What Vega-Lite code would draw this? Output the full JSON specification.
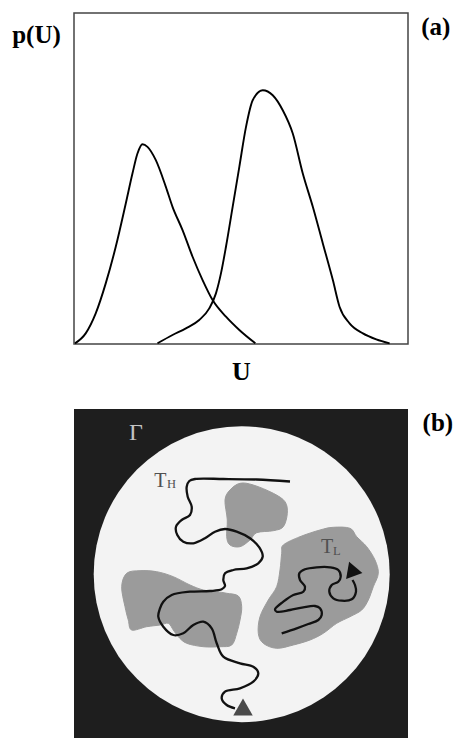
{
  "$schema": "https://vega.github.io/schema/vega-lite/v6.json",
  "background": "white",
  "padding": {"left": 10, "top": 12, "right": 0, "bottom": 0},
  "bounds": "flush",
  "spacing": 65,
  "config": {"font": "Liberation Serif", "axis": {"grid": false}},
  "datasets": {
    "curves": [
      {"curve": "low", "U": 0.3, "p": 0.2}, {"curve": "low", "U": 3.5, "p": 3.2}, {"curve": "low", "U": 6.5, "p": 9.2},
      {"curve": "low", "U": 9.5, "p": 18.2}, {"curve": "low", "U": 12.5, "p": 29.2}, {"curve": "low", "U": 15.5, "p": 42.2},
      {"curve": "low", "U": 17.5, "p": 51.2}, {"curve": "low", "U": 19, "p": 57.2}, {"curve": "low", "U": 20.5, "p": 60},
      {"curve": "low", "U": 22, "p": 59.2}, {"curve": "low", "U": 24.5, "p": 55.2}, {"curve": "low", "U": 27.5, "p": 47.2},
      {"curve": "low", "U": 29.5, "p": 41.2}, {"curve": "low", "U": 32.5, "p": 34.2}, {"curve": "low", "U": 35.5, "p": 26.2},
      {"curve": "low", "U": 38.5, "p": 19.2}, {"curve": "low", "U": 41.5, "p": 13.2}, {"curve": "low", "U": 45.5, "p": 8.2},
      {"curve": "low", "U": 49.5, "p": 4.2}, {"curve": "low", "U": 54.3, "p": 0.2},
      {"curve": "high", "U": 25, "p": 0.2}, {"curve": "high", "U": 29.5, "p": 2.7}, {"curve": "high", "U": 33.5, "p": 4.7},
      {"curve": "high", "U": 37.5, "p": 7.2}, {"curve": "high", "U": 40.5, "p": 10.7}, {"curve": "high", "U": 42.5, "p": 15.2},
      {"curve": "high", "U": 44, "p": 21.2}, {"curve": "high", "U": 45.5, "p": 29.2}, {"curve": "high", "U": 47.5, "p": 41.2},
      {"curve": "high", "U": 49.5, "p": 53.2}, {"curve": "high", "U": 51.5, "p": 65.2}, {"curve": "high", "U": 53.5, "p": 73.2},
      {"curve": "high", "U": 56.5, "p": 76.2}, {"curve": "high", "U": 59.5, "p": 74.7}, {"curve": "high", "U": 62.5, "p": 70.2},
      {"curve": "high", "U": 65.5, "p": 63.2}, {"curve": "high", "U": 68.5, "p": 51.2}, {"curve": "high", "U": 71.5, "p": 41.2},
      {"curve": "high", "U": 74.5, "p": 30.2}, {"curve": "high", "U": 77.5, "p": 19.2}, {"curve": "high", "U": 79.5, "p": 11.2},
      {"curve": "high", "U": 82.5, "p": 6.2}, {"curve": "high", "U": 86.5, "p": 3.2}, {"curve": "high", "U": 90.5, "p": 1.4},
      {"curve": "high", "U": 94.5, "p": 0.2}
    ],
    "blobs": [
      {"blob": "b1", "i": 1, "x": 167, "y": 74.3}, {"blob": "b1", "i": 2, "x": 180.3, "y": 76}, {"blob": "b1", "i": 3, "x": 200.3, "y": 84.3},
      {"blob": "b1", "i": 4, "x": 212, "y": 92.7}, {"blob": "b1", "i": 5, "x": 214.3, "y": 104.3}, {"blob": "b1", "i": 6, "x": 210.3, "y": 117.7},
      {"blob": "b1", "i": 7, "x": 200.3, "y": 121.7}, {"blob": "b1", "i": 8, "x": 183.7, "y": 123.7}, {"blob": "b1", "i": 9, "x": 177, "y": 131},
      {"blob": "b1", "i": 10, "x": 167, "y": 137.7}, {"blob": "b1", "i": 11, "x": 157, "y": 136}, {"blob": "b1", "i": 12, "x": 153.7, "y": 127.7},
      {"blob": "b1", "i": 13, "x": 154.3, "y": 111}, {"blob": "b1", "i": 14, "x": 152, "y": 91}, {"blob": "b1", "i": 15, "x": 157, "y": 81},
      {"blob": "b2", "i": 1, "x": 53.7, "y": 164.3}, {"blob": "b2", "i": 2, "x": 67, "y": 161.7}, {"blob": "b2", "i": 3, "x": 83.7, "y": 162.7},
      {"blob": "b2", "i": 4, "x": 100.3, "y": 167.7}, {"blob": "b2", "i": 5, "x": 117, "y": 176}, {"blob": "b2", "i": 6, "x": 130.3, "y": 181},
      {"blob": "b2", "i": 7, "x": 143.7, "y": 182.7}, {"blob": "b2", "i": 8, "x": 153.7, "y": 184.3}, {"blob": "b2", "i": 9, "x": 165.3, "y": 187},
      {"blob": "b2", "i": 10, "x": 168.7, "y": 197.7}, {"blob": "b2", "i": 11, "x": 167, "y": 211}, {"blob": "b2", "i": 12, "x": 163.7, "y": 224.3},
      {"blob": "b2", "i": 13, "x": 158.7, "y": 236}, {"blob": "b2", "i": 14, "x": 147, "y": 237.7}, {"blob": "b2", "i": 15, "x": 130.3, "y": 237.7},
      {"blob": "b2", "i": 16, "x": 113.7, "y": 234.3}, {"blob": "b2", "i": 17, "x": 105.3, "y": 227.7}, {"blob": "b2", "i": 18, "x": 100.3, "y": 221},
      {"blob": "b2", "i": 19, "x": 95.3, "y": 214.3}, {"blob": "b2", "i": 20, "x": 87, "y": 216}, {"blob": "b2", "i": 21, "x": 73.7, "y": 217.7},
      {"blob": "b2", "i": 22, "x": 58.7, "y": 221}, {"blob": "b2", "i": 23, "x": 55.3, "y": 211}, {"blob": "b2", "i": 24, "x": 52, "y": 197.7},
      {"blob": "b2", "i": 25, "x": 48.7, "y": 177.7},
      {"blob": "b3", "i": 1, "x": 210.3, "y": 136}, {"blob": "b3", "i": 2, "x": 227, "y": 127.7}, {"blob": "b3", "i": 3, "x": 247, "y": 121},
      {"blob": "b3", "i": 4, "x": 260.3, "y": 118.3}, {"blob": "b3", "i": 5, "x": 277, "y": 119.3}, {"blob": "b3", "i": 6, "x": 283.7, "y": 127.7},
      {"blob": "b3", "i": 7, "x": 293.7, "y": 137.7}, {"blob": "b3", "i": 8, "x": 302, "y": 151}, {"blob": "b3", "i": 9, "x": 305.3, "y": 164.3},
      {"blob": "b3", "i": 10, "x": 300.3, "y": 177.7}, {"blob": "b3", "i": 11, "x": 295.3, "y": 191}, {"blob": "b3", "i": 12, "x": 288.7, "y": 201},
      {"blob": "b3", "i": 13, "x": 277, "y": 207.7}, {"blob": "b3", "i": 14, "x": 263.7, "y": 214.3}, {"blob": "b3", "i": 15, "x": 250.3, "y": 224.3},
      {"blob": "b3", "i": 16, "x": 237, "y": 231}, {"blob": "b3", "i": 17, "x": 220.3, "y": 236}, {"blob": "b3", "i": 18, "x": 203.7, "y": 239.3},
      {"blob": "b3", "i": 19, "x": 190.3, "y": 234.3}, {"blob": "b3", "i": 20, "x": 185.3, "y": 224.3}, {"blob": "b3", "i": 21, "x": 187, "y": 207.7},
      {"blob": "b3", "i": 22, "x": 195.3, "y": 191}, {"blob": "b3", "i": 23, "x": 203.7, "y": 177.7}, {"blob": "b3", "i": 24, "x": 207, "y": 161},
      {"blob": "b3", "i": 25, "x": 208.7, "y": 144.3}
    ],
    "paths": [
      {"path": "TH", "i": 1, "x": 217, "y": 72.5}, {"path": "TH", "i": 2, "x": 183.7, "y": 70.5}, {"path": "TH", "i": 3, "x": 150.3, "y": 70},
      {"path": "TH", "i": 4, "x": 122, "y": 70}, {"path": "TH", "i": 5, "x": 116.3, "y": 72}, {"path": "TH", "i": 6, "x": 113.7, "y": 77.7},
      {"path": "TH", "i": 7, "x": 114.7, "y": 87.7}, {"path": "TH", "i": 8, "x": 118.7, "y": 97.7}, {"path": "TH", "i": 9, "x": 117, "y": 106},
      {"path": "TH", "i": 10, "x": 108.7, "y": 111}, {"path": "TH", "i": 11, "x": 103, "y": 117.7}, {"path": "TH", "i": 12, "x": 104.3, "y": 126},
      {"path": "TH", "i": 13, "x": 110.3, "y": 132.7}, {"path": "TH", "i": 14, "x": 120.3, "y": 134.3}, {"path": "TH", "i": 15, "x": 132, "y": 129.3},
      {"path": "TH", "i": 16, "x": 142, "y": 122.7}, {"path": "TH", "i": 17, "x": 152, "y": 120}, {"path": "TH", "i": 18, "x": 163.7, "y": 122.7},
      {"path": "TH", "i": 19, "x": 177, "y": 129.3}, {"path": "TH", "i": 20, "x": 186.3, "y": 138.3}, {"path": "TH", "i": 21, "x": 189.7, "y": 147.7},
      {"path": "TH", "i": 22, "x": 185.3, "y": 154.3}, {"path": "TH", "i": 23, "x": 173.7, "y": 159.3}, {"path": "TH", "i": 24, "x": 160.3, "y": 161},
      {"path": "TH", "i": 25, "x": 152, "y": 164.3}, {"path": "TH", "i": 26, "x": 150.3, "y": 171}, {"path": "TH", "i": 27, "x": 152, "y": 177},
      {"path": "TH", "i": 28, "x": 148.7, "y": 180.3}, {"path": "TH", "i": 29, "x": 137, "y": 182}, {"path": "TH", "i": 30, "x": 117, "y": 182.7},
      {"path": "TH", "i": 31, "x": 98.7, "y": 186}, {"path": "TH", "i": 32, "x": 90.3, "y": 192.7}, {"path": "TH", "i": 33, "x": 87, "y": 199.3},
      {"path": "TH", "i": 34, "x": 85.3, "y": 207.7}, {"path": "TH", "i": 35, "x": 90.3, "y": 217.7}, {"path": "TH", "i": 36, "x": 100.3, "y": 226},
      {"path": "TH", "i": 37, "x": 110.3, "y": 224.3}, {"path": "TH", "i": 38, "x": 120.3, "y": 216}, {"path": "TH", "i": 39, "x": 130.3, "y": 212.7},
      {"path": "TH", "i": 40, "x": 138.7, "y": 219.3}, {"path": "TH", "i": 41, "x": 143.7, "y": 234.3}, {"path": "TH", "i": 42, "x": 150.3, "y": 247.7},
      {"path": "TH", "i": 43, "x": 167, "y": 254.3}, {"path": "TH", "i": 44, "x": 180.3, "y": 257.7}, {"path": "TH", "i": 45, "x": 185.3, "y": 264.3},
      {"path": "TH", "i": 46, "x": 180.3, "y": 272.7}, {"path": "TH", "i": 47, "x": 167, "y": 279.3}, {"path": "TH", "i": 48, "x": 152, "y": 282.7},
      {"path": "TH", "i": 49, "x": 148.7, "y": 289.3}, {"path": "TH", "i": 50, "x": 153.7, "y": 296}, {"path": "TH", "i": 51, "x": 162, "y": 299.3},
      {"path": "TL", "i": 1, "x": 208.7, "y": 224.3}, {"path": "TL", "i": 2, "x": 223.7, "y": 219.3}, {"path": "TL", "i": 3, "x": 235.3, "y": 215},
      {"path": "TL", "i": 4, "x": 245.3, "y": 211}, {"path": "TL", "i": 5, "x": 248.7, "y": 206}, {"path": "TL", "i": 6, "x": 247, "y": 199.3},
      {"path": "TL", "i": 7, "x": 242, "y": 197}, {"path": "TL", "i": 8, "x": 230.3, "y": 198.3}, {"path": "TL", "i": 9, "x": 217, "y": 201},
      {"path": "TL", "i": 10, "x": 203.7, "y": 202.7}, {"path": "TL", "i": 11, "x": 202, "y": 200.3}, {"path": "TL", "i": 12, "x": 210.3, "y": 192.7},
      {"path": "TL", "i": 13, "x": 220.3, "y": 186}, {"path": "TL", "i": 14, "x": 230.3, "y": 182.7}, {"path": "TL", "i": 15, "x": 232, "y": 177.7},
      {"path": "TL", "i": 16, "x": 227, "y": 171}, {"path": "TL", "i": 17, "x": 226.3, "y": 164.3}, {"path": "TL", "i": 18, "x": 232, "y": 160.3},
      {"path": "TL", "i": 19, "x": 243.7, "y": 158.3}, {"path": "TL", "i": 20, "x": 257, "y": 158.3}, {"path": "TL", "i": 21, "x": 265.3, "y": 161},
      {"path": "TL", "i": 22, "x": 267.7, "y": 167.7}, {"path": "TL", "i": 23, "x": 265.3, "y": 172.7}, {"path": "TL", "i": 24, "x": 258.7, "y": 176},
      {"path": "TL", "i": 25, "x": 256.3, "y": 182.7}, {"path": "TL", "i": 26, "x": 260.3, "y": 189.3}, {"path": "TL", "i": 27, "x": 268.7, "y": 191.7},
      {"path": "TL", "i": 28, "x": 278.7, "y": 190.3}, {"path": "TL", "i": 29, "x": 283, "y": 182.7}, {"path": "TL", "i": 30, "x": 282, "y": 176},
      {"path": "TL", "i": 31, "x": 279.5, "y": 171}
    ]
  },
  "vconcat": [
    {
      "width": 334,
      "height": 331,
      "view": {"stroke": "#444", "strokeWidth": 1.5, "fill": "white"},
      "title": {"text": "(a)", "orient": "right", "anchor": "start", "angle": 0, "align": "left", "baseline": "top", "offset": -16, "dy": 2, "fontSize": 25, "fontWeight": "bold", "font": "Liberation Serif", "color": "black"},
      "data": {"name": "curves"},
      "mark": {"type": "line", "interpolate": "monotone", "color": "black", "strokeWidth": 1.9},
      "encoding": {
        "x": {"field": "U", "type": "quantitative", "scale": {"domain": [0, 100], "nice": false, "zero": false},
          "axis": {"title": "U", "labels": false, "ticks": false, "domain": false, "grid": false, "titleFontSize": 26, "titleFontWeight": "bold", "titlePadding": 14, "titleColor": "black", "titleFont": "Liberation Serif"}},
        "y": {"field": "p", "type": "quantitative", "scale": {"domain": [0, 99.4], "nice": false},
          "axis": {"title": "p(U)", "titleAngle": 0, "titleAlign": "center", "titleBaseline": "middle", "titleX": -38, "titleY": 21, "labels": false, "ticks": false, "domain": false, "grid": false, "titleFontSize": 25, "titleFontWeight": "bold", "titleColor": "black", "titleFont": "Liberation Serif"}},
        "detail": {"field": "curve"}
      }
    },
    {
      "width": 334,
      "height": 329,
      "view": {"fill": "#1e1e1e", "stroke": null},
      "title": {"text": "(b)", "orient": "right", "anchor": "start", "angle": 0, "align": "left", "baseline": "top", "offset": -16, "dy": 2, "fontSize": 25, "fontWeight": "bold", "font": "Liberation Serif", "color": "black"},
      "encoding": {
        "x": {"field": "x", "type": "quantitative", "scale": {"domain": [1, 335], "nice": false, "zero": false}, "axis": null},
        "y": {"field": "y", "type": "quantitative", "scale": {"domain": [0, 329], "nice": false, "zero": false, "reverse": true}, "axis": null}
      },
      "layer": [
        {
          "data": {"values": [{"region": "Γ", "x": 168.7, "y": 165.2}]},
          "mark": {"type": "point", "shape": "circle", "filled": true, "size": 87616, "color": "#f3f3f3", "opacity": 1}
        },
        {
          "data": {"name": "blobs"},
          "mark": {"type": "line", "interpolate": "cardinal-closed", "fill": "#9b9b9b", "stroke": "#9b9b9b", "strokeWidth": 1},
          "encoding": {"detail": {"field": "blob"}, "order": {"field": "i", "type": "quantitative"}}
        },
        {
          "data": {"name": "paths"},
          "mark": {"type": "line", "interpolate": "catmull-rom", "color": "#111", "strokeWidth": 2.3},
          "encoding": {"detail": {"field": "path"}, "order": {"field": "i", "type": "quantitative"}}
        },
        {
          "data": {"values": [{"path": "TH", "x": 170, "y": 298}]},
          "mark": {"type": "point", "shape": "triangle-up", "filled": true, "size": 380, "color": "#4a4a4a", "opacity": 1}
        },
        {
          "data": {"values": [{"path": "TL", "x": 282, "y": 162.7}]},
          "mark": {"type": "point", "shape": "triangle-right", "filled": true, "size": 300, "angle": 10, "color": "#111", "opacity": 1}
        },
        {
          "data": {"values": [{"label": "Γ", "x": 63, "y": 24}]},
          "mark": {"type": "text", "fontSize": 24, "color": "#c4c4c4", "align": "center", "baseline": "middle", "font": "Liberation Serif"},
          "encoding": {"text": {"field": "label"}}
        },
        {
          "data": {"values": [{"label": "T", "x": 87.3, "y": 77.7}, {"label": "T", "x": 254.2, "y": 144.3}]},
          "mark": {"type": "text", "fontSize": 20, "color": "#505050", "align": "center", "baseline": "alphabetic", "font": "Liberation Serif"},
          "encoding": {"text": {"field": "label"}}
        },
        {
          "data": {"values": [{"label": "H", "x": 94, "y": 79.3}, {"label": "L", "x": 260, "y": 146}]},
          "mark": {"type": "text", "fontSize": 12.5, "color": "#505050", "align": "left", "baseline": "alphabetic", "font": "Liberation Serif"},
          "encoding": {"text": {"field": "label"}}
        }
      ]
    }
  ]
}
